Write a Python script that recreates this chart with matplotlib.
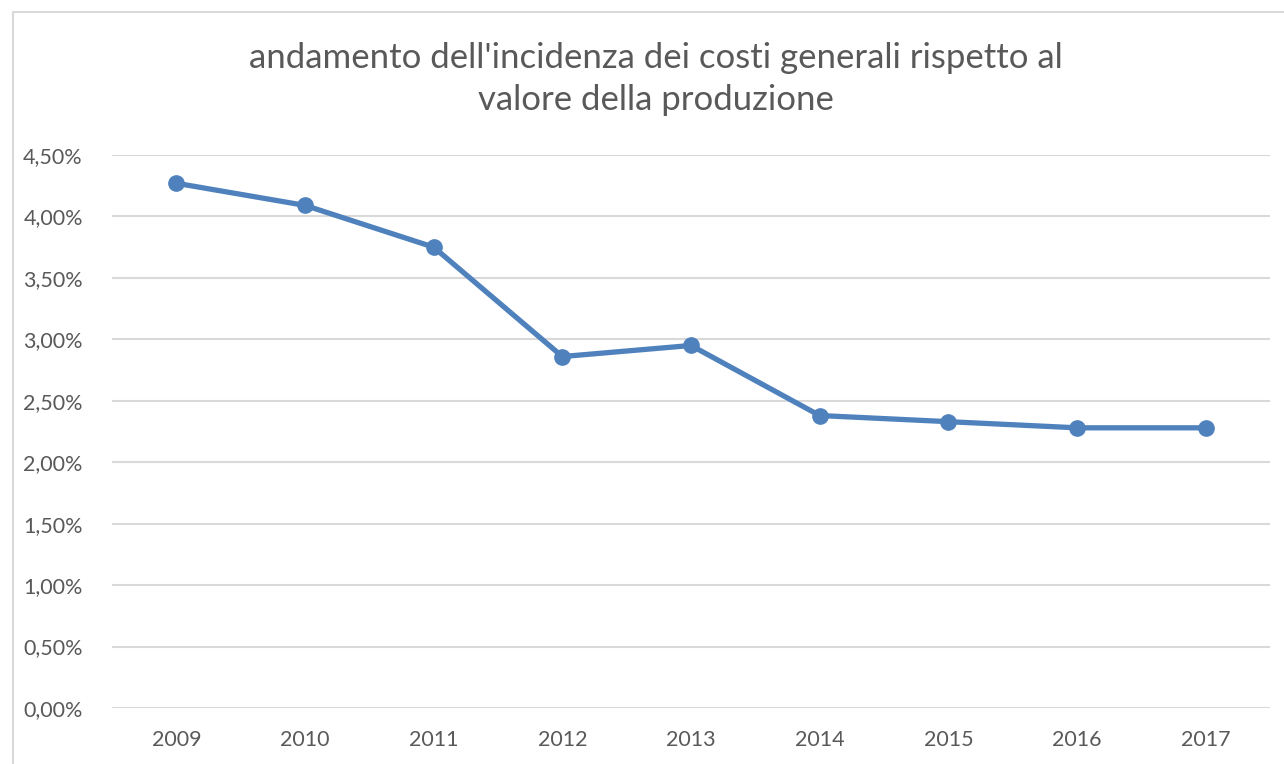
import matplotlib.pyplot as plt
from matplotlib.ticker import FuncFormatter
from matplotlib.patches import Rectangle

# data
anni = ["2009", "2010", "2011", "2012", "2013", "2014", "2015", "2016", "2017"]
incidenza = [4.27, 4.09, 3.75, 2.86, 2.95, 2.38, 2.33, 2.28, 2.28]  # %
y_ticks = [0, 0.5, 1.0, 1.5, 2.0, 2.5, 3.0, 3.5, 4.0, 4.5]

plt.rcParams['font.family'] = ['Lato', 'DejaVu Sans']
txt = "#595959"
grid = "#d9d9d9"
blu = "#4f81bd"

fig = plt.figure(figsize=(12.84, 7.64), dpi=100)
ax = fig.add_axes([112/1284, 1-708/764, (1270-112)/1284, (708-155)/764])

x = list(range(len(anni)))
ax.plot(x, incidenza, color=blu, lw=3.8, marker="o", markersize=11,
        solid_capstyle="round", zorder=3)

ax.set_xlim(-0.5, len(anni)-0.5)
ax.set_ylim(0, 4.5)
ax.set_yticks(y_ticks)
ax.yaxis.set_major_formatter(FuncFormatter(lambda v, p: f"{v:.2f}%".replace(".", ",")))
ax.set_xticks(x)
ax.set_xticklabels(anni)
ax.tick_params(axis="both", length=0, labelsize=15.5, colors=txt)
ax.tick_params(axis="y", pad=21)
ax.tick_params(axis="x", pad=16)
ax.grid(axis="y", color=grid, lw=1.5)
ax.set_axisbelow(True)
for s in ax.spines.values():
    s.set_visible(False)

# chart border (cropped at right and bottom)
fig.patches.append(Rectangle((13/1284, -0.1), 1.2, 1-12/764+0.1,
                             transform=fig.transFigure, fill=False,
                             edgecolor=grid, lw=1.5))

fig.text(656/1284, 1-79/764,
         "andamento dell'incidenza dei costi generali rispetto al\nvalore della produzione",
         ha="center", va="center", fontsize=25, color=txt, linespacing=1.42)

fig.savefig("out.png", dpi=100)
